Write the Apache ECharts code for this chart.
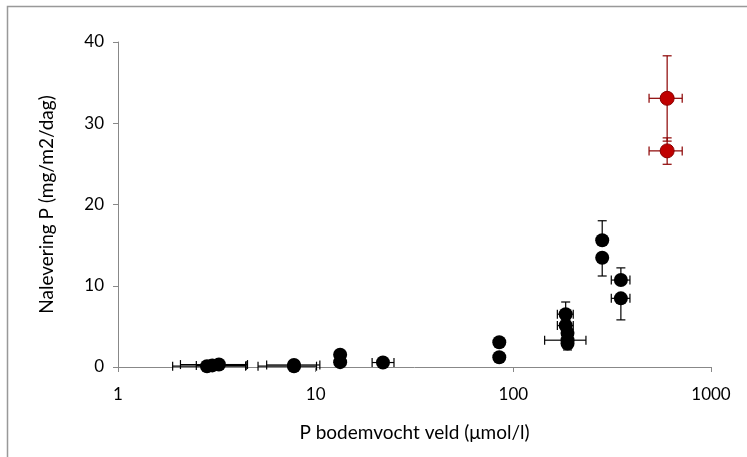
<!DOCTYPE html>
<html><head><meta charset="utf-8">
<script src="https://cdn.jsdelivr.net/npm/echarts@6/dist/echarts.min.js"></script>
<style>html,body{margin:0;padding:0;background:#fff}#c{width:747px;height:457px}</style>
</head><body><div id="c"></div>
<script>
// Black series (field measurements)
const blackX    = [2.82, 3.0, 3.24, 7.77, 7.77, 13.3, 13.3, 21.9, 84.9, 84.9, 184, 184, 188, 188, 188, 281.6, 281.6, 350, 350];
const blackY    = [0.1, 0.2, 0.3, 0.1, 0.25, 1.5, 0.6, 0.55, 3.05, 1.2, 6.5, 5.1, 4.2, 3.3, 2.9, 15.6, 13.45, 10.7, 8.45];
const blackXLo  = [1.89, 2.49, 2.07, 5.11, 5.65, null, null, 19.3, null, null, 167, 167, null, 144, null, null, null, 313, 313];
const blackXHi  = [4.42, 4.45, 4.52, 10.1, 10.5, null, null, 24.9, null, null, 201, 201, null, 233, null, null, null, 389, 389];
const blackYLo  = [null, null, null, null, null, null, null, null, null, null, null, null, null, 2.1, null, null, 11.2, null, 5.8];
const blackYHi  = [null, null, null, null, null, null, null, null, null, null, 8.0, null, null, null, null, 18.0, null, 12.2, null];
// Red series
const redX   = [600, 600];
const redY   = [33.07, 26.6];
const redXLo = [486, 486];
const redXHi = [715, 715];
const redYLo = [27.8, 24.95];
const redYHi = [38.3, 28.2];

const xTicks = [1, 10, 100, 1000];
const yTicks = [0, 10, 20, 30, 40];

const FONT = 'Lato';

function errRender(xs, ys, xlo, xhi, ylo, yhi, color) {
  return function (params, api) {
    const i = params.dataIndex;
    const c = api.coord([xs[i], ys[i]]);
    const kids = [];
    const cap = 4.5;
    const st = { stroke: color, lineWidth: 1.2 };
    if (xlo[i] != null) {
      const p = api.coord([xlo[i], ys[i]]);
      kids.push({ type: 'line', shape: { x1: p[0], y1: c[1], x2: c[0], y2: c[1] }, style: st });
      kids.push({ type: 'line', shape: { x1: p[0], y1: c[1] - cap, x2: p[0], y2: c[1] + cap }, style: st });
    }
    if (xhi[i] != null) {
      const p = api.coord([xhi[i], ys[i]]);
      kids.push({ type: 'line', shape: { x1: c[0], y1: c[1], x2: p[0], y2: c[1] }, style: st });
      kids.push({ type: 'line', shape: { x1: p[0], y1: c[1] - cap, x2: p[0], y2: c[1] + cap }, style: st });
    }
    if (ylo[i] != null) {
      const p = api.coord([xs[i], ylo[i]]);
      kids.push({ type: 'line', shape: { x1: c[0], y1: c[1], x2: c[0], y2: p[1] }, style: st });
      kids.push({ type: 'line', shape: { x1: c[0] - cap, y1: p[1], x2: c[0] + cap, y2: p[1] }, style: st });
    }
    if (yhi[i] != null) {
      const p = api.coord([xs[i], yhi[i]]);
      kids.push({ type: 'line', shape: { x1: c[0], y1: c[1], x2: c[0], y2: p[1] }, style: st });
      kids.push({ type: 'line', shape: { x1: c[0] - cap, y1: p[1], x2: c[0] + cap, y2: p[1] }, style: st });
    }
    return { type: 'group', children: kids };
  };
}

const blackData = blackX.map((x, i) => [x, blackY[i]]);
const redData = redX.map((x, i) => [x, redY[i]]);

const chart = echarts.init(document.getElementById('c'), null, { renderer: 'canvas' });
chart.setOption({
  animation: false,
  backgroundColor: '#fff',
  textStyle: { fontFamily: FONT },
  graphic: [{
    type: 'rect', silent: true, z: -10,
    shape: { x: 7.5, y: 6.5, width: 760, height: 470 },
    style: { fill: 'none', stroke: '#999', lineWidth: 1.5 }
  }],
  grid: { left: 118, right: 36, top: 42, bottom: 90, containLabel: false },
  xAxis: {
    type: 'log', logBase: 10, min: xTicks[0], max: xTicks[xTicks.length - 1],
    name: 'P bodemvocht veld (μmol/l)', nameLocation: 'middle', nameGap: 56,
    nameTextStyle: { fontFamily: FONT, fontSize: 19, color: '#000' },
    axisLine: { lineStyle: { color: '#888', width: 1 } },
    axisTick: { show: true, inside: false, length: 5, lineStyle: { color: '#888' } },
    minorTick: { show: false },
    splitLine: { show: false },
    axisLabel: { fontFamily: FONT, fontSize: 17, color: '#000', margin: 19,
      formatter: v => String(Math.round(v)) }
  },
  yAxis: {
    type: 'value', min: yTicks[0], max: yTicks[yTicks.length - 1], interval: 10,
    name: 'Nalevering P (mg/m2/dag)', nameLocation: 'middle', nameGap: 62, nameRotate: 90,
    nameTextStyle: { fontFamily: FONT, fontSize: 19, color: '#000' },
    axisLine: { show: true, lineStyle: { color: '#888', width: 1 } },
    axisTick: { show: true, inside: false, length: 5, lineStyle: { color: '#888' } },
    splitLine: { show: false },
    axisLabel: { fontFamily: FONT, fontSize: 17, color: '#000', margin: 14 }
  },
  series: [
    { type: 'custom', coordinateSystem: 'cartesian2d', data: blackData, z: 2,
      encode: { x: 0, y: 1 },
      renderItem: errRender(blackX, blackY, blackXLo, blackXHi, blackYLo, blackYHi, '#000') },
    { type: 'custom', coordinateSystem: 'cartesian2d', data: redData, z: 2,
      encode: { x: 0, y: 1 },
      renderItem: errRender(redX, redY, redXLo, redXHi, redYLo, redYHi, '#8b0000') },
    { type: 'scatter', data: blackData, z: 3, symbol: 'circle', symbolSize: 14,
      itemStyle: { color: '#000', opacity: 1 } },
    { type: 'scatter', data: redData, z: 3, symbol: 'circle', symbolSize: 14,
      itemStyle: { color: '#c00000', borderColor: '#8b0000', borderWidth: 1, opacity: 1 } }
  ]
});
</script></body></html>
